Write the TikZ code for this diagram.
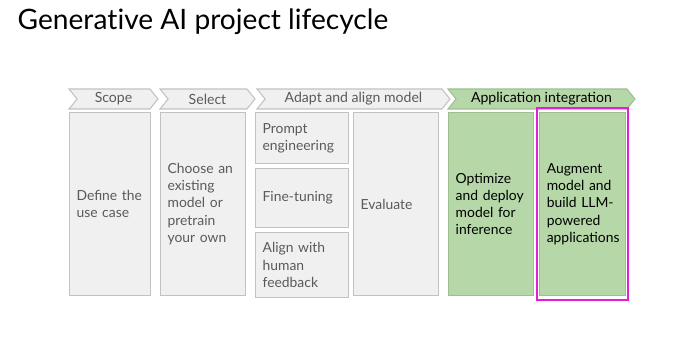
\documentclass[tikz,border=0pt]{standalone}
\usepackage{fontspec}
\setmainfont{Lato}
\usetikzlibrary{positioning,shapes.symbols}
\definecolor{StageGray}{HTML}{F0F0F0}
\definecolor{EdgeGray}{HTML}{C2C2C2}
\definecolor{TextGray}{HTML}{5A5A5A}
\definecolor{Leaf}{HTML}{B6D7A8}
\definecolor{LeafEdge}{HTML}{9FBF91}
\definecolor{Magenta}{HTML}{E01FD6}
\tikzset{
  stage/.style={
    signal, signal to=east, signal from=west, signal pointer angle=102,
    draw=EdgeGray, line width=0.3pt, fill=StageGray, text=TextGray,
    minimum height=0.2cm, inner sep=0pt, font=\fontsize{4.0pt}{5pt}\selectfont
  },
  greenstage/.style={stage, fill=Leaf, draw=LeafEdge, text=black},
  task/.style={
    draw=EdgeGray, line width=0.3pt, fill=StageGray, text=TextGray,
    anchor=north west, align=left, inner xsep=0.07cm, inner ysep=0pt,
    font=\fontsize{3.95pt}{4.9pt}\selectfont,
    execute at begin node={\hyphenpenalty=10000 \exhyphenpenalty=10000 }
  },
  greentask/.style={task, fill=Leaf, draw=LeafEdge, text=black}
}

\begin{document}
\begin{tikzpicture}
  \useasboundingbox[fill=white] (0,0) rectangle (7,3.41);
  \node[anchor=base west,inner sep=0pt,font=\fontsize{8pt}{9pt}\selectfont] (title) at (0.17,3.11) {Genera\mbox{t}ive AI project lifecycle};
  % stage headers
  \node[stage,minimum width=0.89cm] (scope) at (1.135,2.42) {Scope};
  \node[stage,minimum width=0.95cm] (select) at (2.075,2.42) {Select};
  \node[stage,minimum width=1.93cm] (adapt) at (3.535,2.42) {Adapt and align model};
  \node[greenstage,minimum width=1.87cm] (appint) at (5.415,2.42) {Application integration};
  % tasks
  \node[task,text width=0.67cm,minimum height=1.83cm] (define) at (0.69,2.29) {Define the\\use case};
  \node[task,text width=0.71cm,minimum height=1.83cm,right=0.09cm of define.north east,anchor=north west] (choose) {Choose an\\existing\\model or\\pretrain\\your own};
  \node[task,text width=0.79cm,minimum height=0.51cm,right=0.09cm of choose.north east,anchor=north west] (prompt) {Prompt\\engineering};
  \node[task,text width=0.79cm,minimum height=0.59cm,below=0.04cm of prompt.south west,anchor=north west] (finetune) {Fine-tuning};
  \node[task,text width=0.79cm,minimum height=0.65cm,below=0.04cm of finetune.south west,anchor=north west] (rlhf) {Align with\\human\\feedback};
  \node[task,text width=0.71cm,minimum height=1.83cm,right=0.04cm of prompt.north east,anchor=north west] (evaluate) {Evaluate};
  \node[greentask,text width=0.71cm,minimum height=1.83cm,right=0.09cm of evaluate.north east,anchor=north west] (optimize) {Optimize\\and deploy\\model for\\inference};
  \node[greentask,text width=0.72cm,minimum height=1.83cm,right=0.05cm of optimize.north east,anchor=north west] (augment) {Augment\\model and\\build LLM-\\powered\\applications};
  % highlight
  \draw[Magenta,line width=0.5pt] ([shift={(-0.02,0.04)}]augment.north west) rectangle ([shift={(0.02,-0.04)}]augment.south east);
\end{tikzpicture}
\end{document}
